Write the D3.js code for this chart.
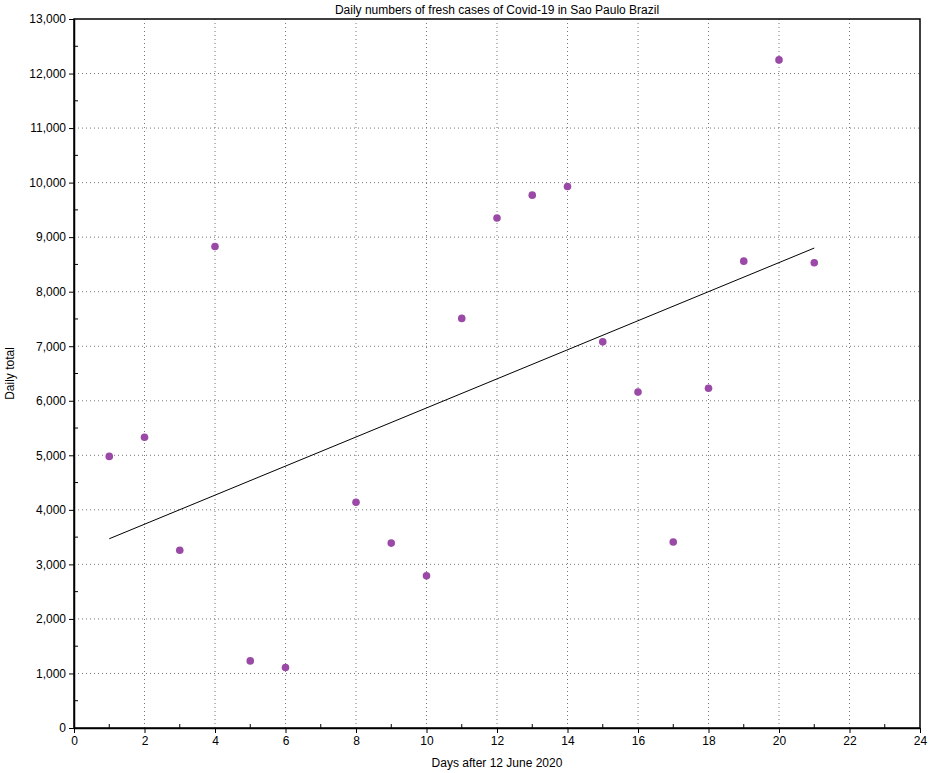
<!DOCTYPE html>
<html><head><meta charset="utf-8">
<script src="https://cdn.jsdelivr.net/npm/d3@7"></script>
<style>body{margin:0;background:#fff}text{font-family:"Liberation Sans",Arial,sans-serif}</style>
</head><body><svg id="c" width="938" height="773"></svg>
<script>
const days = [1,2,3,4,5,6,8,9,10,11,12,13,14,15,16,17,18,19,20,21];
const cases = [4980,5330,3260,8830,1230,1110,4140,3390,2790,7510,9350,9770,9930,7080,6160,3410,6230,8560,12250,8530];
const trendDays = [1,21];
const trendVals = [3470,8800];
const xTicks = d3.range(0,25,2);
const yTicks = d3.range(0,13001,1000);

const m = {left:74,right:18,top:19,bottom:45};
const W = 938, H = 773;
const svg = d3.select("#c");
const x = d3.scaleLinear().domain([0,24]).range([m.left,W-m.right]);
const y = d3.scaleLinear().domain([0,13000]).range([H-m.bottom,m.top]);

// grid
svg.append("g").selectAll("line").data(xTicks.slice(1,-1)).join("line")
  .attr("x1",d=>x(d)).attr("x2",d=>x(d)).attr("y1",y(0)).attr("y2",y(13000))
  .attr("stroke","#777").attr("stroke-dasharray","1,3");
svg.append("g").selectAll("line").data(yTicks.slice(1,-1)).join("line")
  .attr("y1",d=>y(d)).attr("y2",d=>y(d)).attr("x1",x(0)).attr("x2",x(24))
  .attr("stroke","#777").attr("stroke-dasharray","1,3");

// minor ticks inward
svg.append("g").selectAll("line").data(d3.range(1,24,2)).join("line")
  .attr("x1",d=>x(d)).attr("x2",d=>x(d)).attr("y1",y(0)).attr("y2",y(0)-4).attr("stroke","#000");
svg.append("g").selectAll("line").data(d3.range(500,13000,1000)).join("line")
  .attr("y1",d=>y(d)).attr("y2",d=>y(d)).attr("x1",x(0)).attr("x2",x(0)+4).attr("stroke","#000");

const xa = svg.append("g").attr("transform",`translate(0,${y(0)})`)
  .call(d3.axisBottom(x).tickValues(xTicks).tickSize(5).tickSizeOuter(0));
const ya = svg.append("g").attr("transform",`translate(${x(0)},0)`)
  .call(d3.axisLeft(y).tickValues(yTicks).tickFormat(d3.format(",")).tickSize(5).tickSizeOuter(0));
[xa,ya].forEach(g=>{g.selectAll("text").attr("font-size",12).attr("fill","#000");g.select(".domain").attr("stroke","#000").attr("stroke-width",1.5);});

svg.append("rect").attr("x",x(0)).attr("y",y(13000)).attr("width",x(24)-x(0)).attr("height",y(0)-y(13000))
  .attr("fill","none").attr("stroke","#000").attr("stroke-width",1.5);

svg.append("line").attr("x1",x(trendDays[0])).attr("y1",y(trendVals[0]))
  .attr("x2",x(trendDays[1])).attr("y2",y(trendVals[1])).attr("stroke","#000").attr("stroke-width",1);

svg.append("g").selectAll("circle").data(days).join("circle")
  .attr("cx",d=>x(d)).attr("cy",(d,i)=>y(cases[i])).attr("r",3.8).attr("fill","#9a4aa6");

svg.append("text").attr("x",(x(0)+x(24))/2).attr("y",14).attr("text-anchor","middle").attr("font-size",12)
  .text("Daily numbers of fresh cases of Covid-19 in Sao Paulo Brazil");
svg.append("text").attr("x",(x(0)+x(24))/2).attr("y",767).attr("text-anchor","middle").attr("font-size",12)
  .text("Days after 12 June 2020");
svg.append("text").attr("transform",`translate(14,${(y(0)+y(13000))/2}) rotate(-90)`).attr("text-anchor","middle").attr("font-size",12)
  .text("Daily total");
</script></body></html>
